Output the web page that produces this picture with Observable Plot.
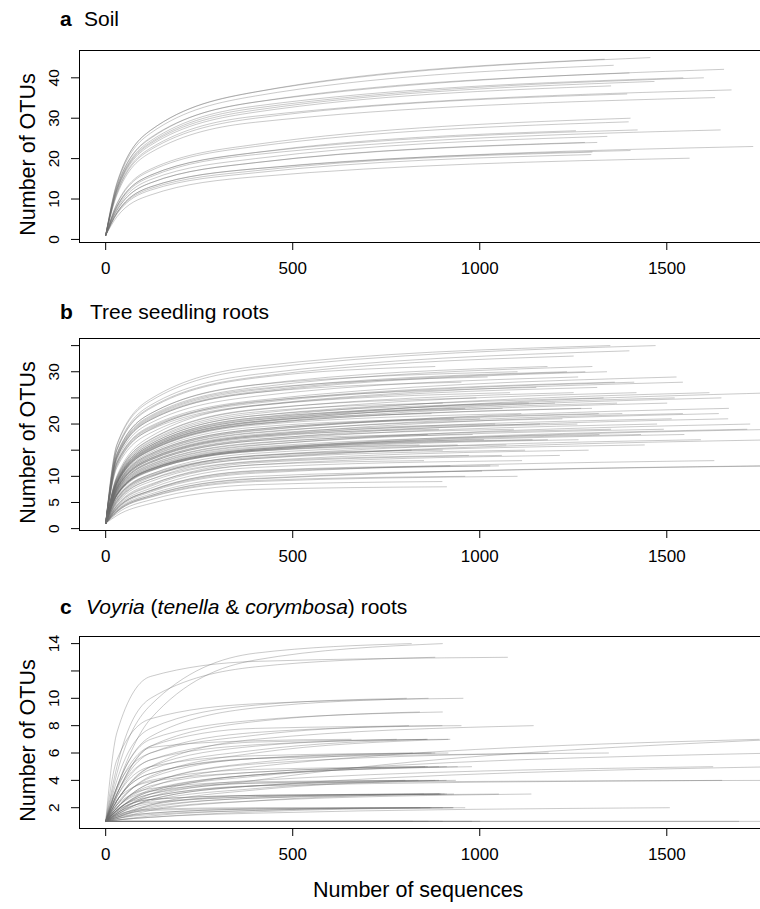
<!DOCTYPE html>
<html><head><meta charset="utf-8">
<script src="https://cdn.jsdelivr.net/npm/d3@7"></script>
<script src="https://cdn.jsdelivr.net/npm/@observablehq/plot@0.6"></script>
<style>
html,body{margin:0;padding:0;background:#fff;overflow:hidden;}
#wrap{position:relative;width:760px;height:909px;overflow:hidden;font-family:"Liberation Sans",Arial,Helvetica,sans-serif;color:#000;}
.t{position:absolute;font-size:21px;line-height:1;white-space:pre;}
.p{position:absolute;left:0;width:786px;}
.p svg{max-width:none !important;width:786px;height:252px;}
</style></head><body><div id="wrap"></div>
<script>
// ---------------- data ----------------
const xTicks = [0, 500, 1000, 1500];
const startOTUs = 1;                 // every curve starts at 1 OTU
const readX = [30, 120, 400];        // sequence counts where intermediate OTU values were read

// a  Soil
const soilEnd  = [1455,1333,1357,1652,1399,1598,1543,1466,1350,1672,1393,1628,1402,1397,1421,1643,1256,1340,1313,1280,1730,1402,1300,1297,1560];
const soilY30  = [14,13.8,13.5,13,12.9,12.4,12.5,12.2,12,11.6,11.4,11,8.9,8.7,8.2,8,8.2,7.6,7.2,7.2,6.6,6.6,6.5,6.3,5.6];
const soilY120 = [27,27,26.3,25,25.2,24,24.4,23.7,23.3,22.6,22.2,21.5,17.4,17,15.9,15.5,15.9,14.8,14,14,13,13,12.6,12.2,11];
const soilY400 = [36.5,36.5,35.5,34,34,32.5,33,32,31.5,30.5,30,29,23.5,23,21.5,21,21.5,20,19,19,17.5,17.5,17,16.5,15.5];
const soilYEnd = [45,44.6,43.1,42.1,41.2,40,40,39.1,38,37,36,35.1,30,29.1,27.1,27.1,26.9,25.5,24,24,23,22,21.6,21,20.1];
const soilYTicks = [0,10,20,30,40];
const soilYLabels = [0,10,20,30,40];

// b  Tree seedling roots
const treeEnd = [1469,1348,1399,1339,1281,1232,1525,1262,1542,1412, 1360,1313,1418,1613,1800,1250,1645,1520,1366,1299, 1665,1638,1317,1542,1663,1512,1722,1473,1800,1714, 1491,1546,1430,1319,1263,1181,1800,1213,1626,1800, 1058,1112,1027,1005,899,911,817,838,1100,1020, 950,880,1150,1080,990,900,1130,1060,960,870, 1110,1000,930,1160,1040,890,1090,980,860,1140, 1010,940,1070,900,1120,970,850,1050,920,1100, 960,1250,1180,1300,1200,1260,1350,1380,1440,1290, 1220,1330,1270,1500,1590,1750];
const treeY30 = [16,16.1,15.3,13.5,13.6,13.8,12.7,13.1,12.3,12.5, 12.6,11.7,9.5,9.1,8.8,9.8,8.7,8.9,8.8,8.6, 8,7.7,8.2,7.9,7.3,7.6,6.8,7.2,6.5,6.5, 6.9,6.5,6.5,6.7,6.4,6.4,5.8,4.3,3.7,3.3, 4.4,4.1,3.9,3.5,2.9,2.5,5.2,6.2,14.3,13.9, 13.5,15,12,10.1,9.8,9.6,9.3,9,9.1,8.8, 8.5,8.2,8.3,7.7,7.7,7.6,7.4,7.1,7.2,6.5, 6.6,6.4,5.6,5.4,5,4.8,4.5,3.8,3.9,3.2, 3.2,15.1,14.3,14.1,9,7.5,7,8.1,5.8,5.2, 7.9,9.3,8.6,8.6,6,3.4];
const treeY120 = [24.4,24.8,23.6,20.8,21,21.2,19.6,20.2,18.9,19.2, 19.4,18.3,16.5,15.9,15.4,17,15.2,15.6,15.3,15, 14,13.4,14.3,13.7,12.8,13.2,11.9,12.6,11.3,11.4, 12,11.3,11.4,11.7,11.1,11.2,10,8.1,7,6.3, 8.3,7.7,7.3,6.6,5.5,4.8,9.8,11,22,21.4, 20.8,23,19,17.6,17.1,16.7,16.2,15.6,15.9,15.4, 14.9,14.3,14.6,13.4,13.5,13.2,12.8,12.3,12.6,11.4, 11.6,11.1,10.4,10,9.4,9,8.5,7.2,7.3,6, 6.1,23.2,22,21.6,15.8,13.1,12.2,14.1,10.2,9.4, 13.8,16.2,15,15.1,10.4,6.3];
const treeY400 = [30.5,31,29.5,26,26.2,26.5,24.5,25.3,23.6,24, 24.2,23.5,22,21.2,20.5,22.7,20.3,20.8,20.4,20, 18.7,17.8,19,18.3,17,17.6,15.9,16.8,15,15.2, 16,15,15.2,15.6,14.8,15,13.4,12.2,10.6,9.5, 12.6,11.7,11,10,8.4,7.5,14,14.9,27.5,26.7, 26,28.8,24.3,23.5,22.8,22.3,21.6,20.8,21.2,20.5, 19.8,19,19.4,17.8,18,17.6,17.1,16.4,16.8,15.2, 15.4,14.8,14.4,13.9,13.4,12.8,12.2,10.8,11.1,9, 9.2,29,27.5,27,21,17.4,16.3,18.8,13.6,12.9, 18.4,21.6,20,20.1,13.9,9.6];
const treeYEnd = [35,35,34,30,30,30,29,29,28,28, 28,27,26,26,26,26,25,25,24,23, 23,22,22,22,21,21,20,20,19,19, 19,18,18,18,17,17,17,14,13,12, 14,13,12,11,9,8,15,16,30,29, 28,31,27,26,25,24,24,23,23,22, 22,21,21,20,20,19,19,18,18,17, 17,16,16,15,15,14,13,12,12,10, 10,33,31,31,24,20,19,22,16,15, 21,25,23,24,17,12];
const treeYTicks = [0,5,10,15,20,25,30,35];
const treeYLabels = [0,5,10,20,30];

// c  Voyria (tenella & corymbosa) roots
const voyEnd  = [817,900,1074,880,804,862,955,839,900,1143, 899,656,777,857,920,1800,1747,915,1183,1344, 1800,853,911,978,1623,1800,835,1647,1800,893, 911,896,1137,866,927,929,1507,862,978,1692, 1800,820,870,940,800,880,910,850,890,930, 870,900,840,960,820,900,1000,880,915,860, 950,810,890,860,935,905,1050,890];
const voyY30  = [4.5,3.5,7.5,5,4,3.5,5.5,3,3.5,2.5, 3,3,2.5,2.8,2.2,1.7,2,2.2,2,2.5, 1.8,2,2.3,1.8,1.8,1.5,1.8,1.6,2,1.6, 1.8,1.4,1.3,1.3,1.4,1.1,1.1,1,1,1, 1,2.5,2,1.6,1.5,2.2,1.3,1.5,1.2,1.7, 1.2,1.5,1.1,1.2,1,1,1,2.8,3,2.5, 3.3,3.5,1.8,2.6,1.9,1.4,1.3,1.6];
const voyY120 = [9.5,8.5,11.6,10,7.8,7.2,8.5,6.5,7,5, 6,6.4,5,5.5,4.3,2.8,3.5,4.2,3.8,4.5, 3.3,3.6,4,3.2,3,2.6,3,2.8,3.2,2.4, 2.6,2.1,1.9,1.6,1.8,1.3,1.3,1,1,1, 1,4.5,3.8,3,2.6,3.4,2.2,2.3,1.8,2.6, 1.5,1.9,1.4,1.6,1,1,1,5,5.5,4.8, 6.5,6,3.2,3.9,2.8,2.2,2,2.5];
const voyY400 = [13.3,12.8,12.7,12.3,9.5,9.3,9.6,8.3,8.4,7, 7.5,6.9,6.5,6.6,6,4,5,5.6,5.2,5.6, 4.4,4.6,4.8,4.4,4,3.6,3.8,3.6,3.8,2.8, 2.9,2.7,2.5,1.9,1.95,1.7,1.6,1,1,1, 1,5.6,5.3,4.4,3.6,3.9,3.3,2.8,2.5,2.9, 1.8,2,1.8,1.9,1,1,1,5.8,6.8,6.2, 7.8,7.3,4.3,4.6,3.6,2.9,2.7,3.4];
const voyYEnd = [14,14,13,13,10,10,10,9,9,8, 8,7,7,7,7,7,7,6,6,6, 6,5,5,5,5,5,4,4,4,3, 3,3,3,2,2,2,2,1,1,1, 1,6,6,5,4,4,4,3,3,3, 2,2,2,2,1,1,1,6,7,7, 8,8,5,5,4,3,3,4];
const voyYTicks = [2,4,6,8,10,12,14];
const voyYLabels = [2,4,6,8,10,14];

// ---------------- build ----------------
const FONT = '"Liberation Sans", Arial, Helvetica, sans-serif';

function buildRows(ends, y30, y120, y400, yEnd) {
  const rows = [];
  for (let i = 0; i < ends.length; i++) {
    const ys = [y30[i], y120[i], y400[i]];
    rows.push({id: i, x: 0, y: startOTUs});
    readX.forEach((x, k) => rows.push({id: i, x, y: ys[k]}));
    rows.push({id: i, x: ends[i], y: yEnd[i]});
  }
  return rows;
}

function makePanel(rows, yDomain, yTicks, yLabels) {
  return Plot.plot({
    width: 786, height: 252,
    marginLeft: 79, marginRight: 0, marginTop: 10, marginBottom: 50,
    x: {domain: [-70, 1820]},
    y: {domain: yDomain},
    style: {fontFamily: FONT, background: "transparent", color: "#000", overflow: "visible", maxWidth: "none"},
    marks: [
      Plot.line(rows, {x: "x", y: "y", z: "id", curve: "monotone-x", stroke: "#6b6b6b", strokeOpacity: 0.36, strokeWidth: 1}),
      Plot.frame({stroke: "#000", strokeWidth: 1}),
      Plot.axisX({ticks: xTicks, tickSize: 8, tickFormat: () => "", label: null}),
      Plot.axisY({ticks: yTicks, tickSize: 8, tickFormat: () => "", label: null}),
      Plot.text(xTicks, {x: d => d, text: d => String(d), frameAnchor: "bottom", dy: 26, lineAnchor: "middle", textAnchor: "middle", fontSize: 17, fill: "#000"}),
      Plot.text(yLabels, {y: d => d, text: d => String(d), frameAnchor: "left", dx: -25.7, rotate: -90, textAnchor: "middle", lineAnchor: "middle", fontSize: 15.5, fill: "#000"}),
      Plot.text(["Number of OTUs"], {text: d => d, frameAnchor: "left", dx: -51, dy: 8, rotate: -90, textAnchor: "middle", lineAnchor: "middle", fontSize: 21.5, fill: "#000"})
    ]
  });
}

const wrap = document.getElementById("wrap");
function place(el, top) {
  const d = document.createElement("div");
  d.className = "p";
  d.style.top = top + "px";
  el.style.maxWidth = "none";
  d.appendChild(el);
  wrap.appendChild(d);
}
function title(letter, html, top, textLeft) {
  const a = document.createElement("div");
  a.className = "t"; a.style.top = top + "px"; a.style.left = "60px";
  a.innerHTML = "<b>" + letter + "</b>";
  wrap.appendChild(a);
  const b = document.createElement("div");
  b.className = "t"; b.style.top = top + "px"; b.style.left = textLeft + "px";
  b.innerHTML = html;
  wrap.appendChild(b);
}

place(makePanel(buildRows(soilEnd, soilY30, soilY120, soilY400, soilYEnd), [-0.76, 46.76], soilYTicks, soilYLabels), 40);
place(makePanel(buildRows(treeEnd, treeY30, treeY120, treeY400, treeYEnd), [-0.36, 36.36], treeYTicks, treeYLabels), 328);
place(makePanel(buildRows(voyEnd, voyY30, voyY120, voyY400, voyYEnd), [0.48, 14.52], voyYTicks, voyYLabels), 626);

title("a", "Soil", 7.5, 84);
title("b", "Tree seedling roots", 300.5, 90);
title("c", "<i>Voyria</i> (<i>tenella</i> &amp; <i>corymbosa</i>) roots", 595.5, 86);

const xl = document.createElement("div");
xl.className = "t"; xl.style.fontSize = "21.5px";
xl.style.top = "880px"; xl.style.left = "313px";
xl.textContent = "Number of sequences";
wrap.appendChild(xl);
</script>
</body></html>
